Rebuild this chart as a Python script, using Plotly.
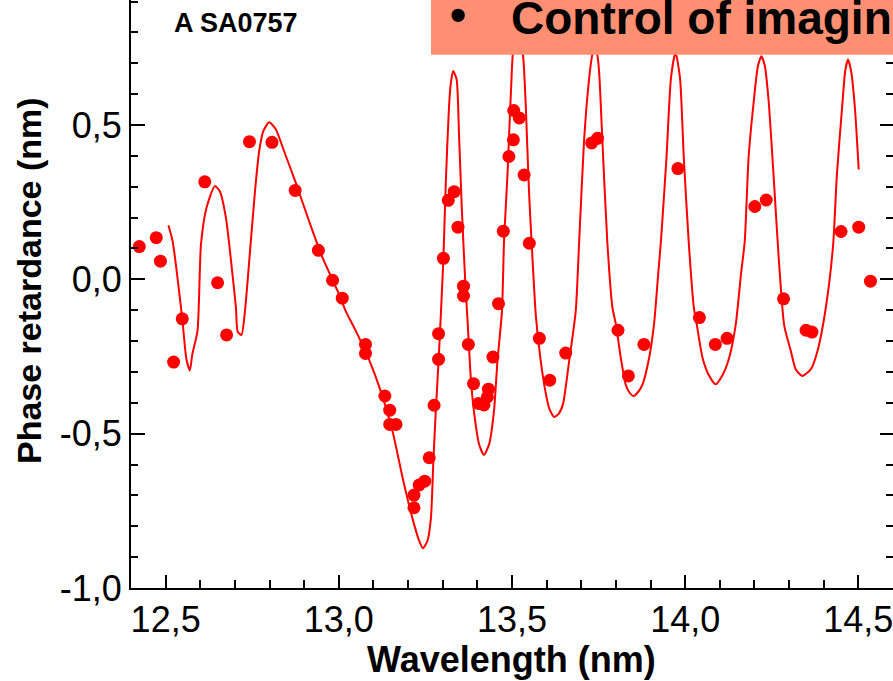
import plotly.graph_objects as go

# ---- measured data points (wavelength nm, phase retardance nm)
meas_x = [12.424, 12.473, 12.485, 12.523, 12.548, 12.613, 12.650, 12.676, 12.742, 12.807,
          12.874, 12.941, 12.982, 13.010, 13.077, 13.077, 13.133, 13.147, 13.147, 13.165,
          13.217, 13.217, 13.232, 13.248, 13.261, 13.275, 13.288, 13.288, 13.302, 13.316,
          13.333, 13.344, 13.360, 13.360, 13.374, 13.389, 13.403, 13.419, 13.429, 13.432,
          13.445, 13.461, 13.475, 13.491, 13.504, 13.505, 13.521, 13.535, 13.550, 13.579,
          13.609, 13.655, 13.730, 13.747, 13.806, 13.836, 13.881, 13.979, 14.041, 14.087,
          14.121, 14.201, 14.234, 14.284, 14.349, 14.366, 14.450, 14.501, 14.535]
meas_y = [0.106, 0.135, 0.059, -0.268, -0.128, 0.316, -0.011, -0.180, 0.446, 0.444,
          0.288, 0.094, -0.003, -0.061, -0.211, -0.240, -0.378, -0.424, -0.470, -0.470,
          -0.699, -0.740, -0.666, -0.654, -0.578, -0.408, -0.259, -0.176, 0.068, 0.256,
          0.284, 0.169, -0.022, -0.054, -0.211, -0.338, -0.402, -0.407, -0.381, -0.356,
          -0.252, -0.079, 0.156, 0.398, 0.452, 0.547, 0.523, 0.338, 0.117, -0.191,
          -0.327, -0.239, 0.442, 0.457, -0.165, -0.313, -0.211, 0.359, -0.124, -0.211,
          -0.191, 0.236, 0.257, -0.063, -0.165, -0.171, 0.155, 0.169, -0.006]

# ---- fitted curve
fit_x = [12.508, 12.520, 12.548, 12.560, 12.570, 12.577, 12.592, 12.602, 12.618, 12.642,
         12.656, 12.674, 12.693, 12.703, 12.708, 12.719, 12.729, 12.746, 12.758, 12.770,
         12.782, 12.799, 12.818, 12.842, 12.874, 12.914, 12.953, 13.001, 13.020, 13.049,
         13.087, 13.121, 13.155, 13.184, 13.212, 13.232, 13.243, 13.256, 13.266, 13.273,
         13.280, 13.288, 13.295, 13.302, 13.309, 13.318, 13.323, 13.330, 13.340, 13.347,
         13.355, 13.365, 13.372, 13.381, 13.390, 13.405, 13.419, 13.434, 13.448, 13.458,
         13.471, 13.477, 13.487, 13.497, 13.506, 13.519, 13.532, 13.540, 13.549, 13.559,
         13.569, 13.583, 13.598, 13.608, 13.622, 13.635, 13.647, 13.665, 13.684, 13.694,
         13.708, 13.721, 13.731, 13.739, 13.747, 13.752, 13.761, 13.775, 13.790, 13.800,
         13.814, 13.828, 13.838, 13.851, 13.864, 13.877, 13.896, 13.910, 13.922, 13.930,
         13.946, 13.959, 13.972, 13.985, 13.996, 14.010, 14.025, 14.034, 14.050, 14.068,
         14.088, 14.108, 14.127, 14.146, 14.161, 14.172, 14.183, 14.198, 14.210, 14.220,
         14.230, 14.241, 14.255, 14.270, 14.286, 14.305, 14.319, 14.338, 14.363, 14.382,
         14.406, 14.427, 14.438, 14.453, 14.462, 14.470, 14.479, 14.490, 14.501]
fit_y = [0.175, 0.124, -0.128, -0.259, -0.295, -0.243, -0.167, 0.113, 0.232, 0.302,
         0.286, 0.200, 0.016, -0.092, -0.170, -0.180, -0.103, 0.124, 0.286, 0.415,
         0.480, 0.509, 0.486, 0.415, 0.318, 0.189, 0.070, -0.049, -0.103, -0.167,
         -0.259, -0.362, -0.491, -0.642, -0.772, -0.847, -0.871, -0.847, -0.772, -0.588,
         -0.426, -0.265, -0.103, 0.070, 0.318, 0.556, 0.632, 0.675, 0.648, 0.470,
         0.232, -0.006, -0.140, -0.319, -0.426, -0.534, -0.569, -0.534, -0.426, -0.265,
         -0.103, 0.124, 0.340, 0.610, 0.772, 0.800, 0.723, 0.556, 0.286, 0.070,
         -0.120, -0.265, -0.372, -0.420, -0.446, -0.435, -0.405, -0.265, -0.103, 0.124,
         0.448, 0.632, 0.723, 0.760, 0.723, 0.664, 0.448, 0.124, -0.092, -0.146,
         -0.254, -0.340, -0.365, -0.378, -0.365, -0.340, -0.254, -0.146, 0.016, 0.124,
         0.394, 0.653, 0.735, 0.653, 0.394, 0.124, -0.092, -0.150, -0.254, -0.310,
         -0.340, -0.310, -0.254, -0.146, 0.016, 0.124, 0.394, 0.577, 0.691, 0.723,
         0.691, 0.577, 0.340, 0.070, -0.150, -0.232, -0.291, -0.313, -0.291, -0.232,
         -0.092, 0.110, 0.340, 0.556, 0.675, 0.712, 0.675, 0.556, 0.356]

# ---- ticks
x_tickvals = [12.5, 13.0, 13.5, 14.0, 14.5]
x_ticktext = ["12,5", "13,0", "13,5", "14,0", "14,5"]
y_tickvals = [-1.0, -0.5, 0.0, 0.5]
y_ticktext = ["-1,0", "-0,5", "0,0", "0,5"]

FONT = "Arial, Liberation Sans, sans-serif"
RED = "#FF0000"

fig = go.Figure()
fig.add_trace(go.Scatter(x=fit_x, y=fit_y, mode="lines",
                         line=dict(color=RED, width=2, shape="spline", smoothing=0.6),
                         showlegend=False, hoverinfo="skip"))
fig.add_trace(go.Scatter(x=meas_x, y=meas_y, mode="markers",
                         marker=dict(color=RED, size=13, line=dict(width=0)),
                         showlegend=False))

axis_common = dict(showgrid=False, zeroline=False, showline=True, linecolor="black",
                   linewidth=2, ticks="inside", tickcolor="black", tickwidth=2,
                   automargin=False, ticklabeloverflow="allow",
                   tickfont=dict(family=FONT, size=36, color="black"))

fig.update_layout(
    width=893, height=681,
    margin=dict(l=131, r=0, t=0, b=93),
    paper_bgcolor="white", plot_bgcolor="white",
    xaxis=dict(range=[12.4, 14.6], tickvals=x_tickvals, ticktext=x_ticktext,
               ticklen=13, ticklabelstandoff=-1,
               minor=dict(ticks="inside", ticklen=8, dtick=0.1, tick0=12.4,
                          tickwidth=2, tickcolor="black"),
               **axis_common),
    yaxis=dict(range=[-1.0, 0.905], tickvals=y_tickvals, ticktext=y_ticktext,
               ticklen=14, minor=dict(ticks="inside", ticklen=7, dtick=0.1, tick0=-1.0,
                                      tickwidth=2, tickcolor="black"),
               **axis_common),
    yaxis2=dict(overlaying="y", matches="y", side="right", showline=False,
                automargin=False,
                showgrid=False, zeroline=False, showticklabels=False,
                ticks="inside", ticklen=13, tickwidth=2, tickcolor="black",
                tickvals=y_tickvals,
                minor=dict(ticks="inside", ticklen=7, dtick=0.1, tick0=-1.0,
                           tickwidth=2, tickcolor="black")),
    showlegend=False,
)

# invisible trace to bind yaxis2
fig.add_trace(go.Scatter(x=[12.4], y=[-2], yaxis="y2", mode="markers",
                         marker=dict(opacity=0), showlegend=False, hoverinfo="skip"))

fig.add_shape(type="rect", xref="paper", yref="paper", x0=0.3937, x1=1.05,
              y0=1 - 54.7 / 588, y1=1.05, fillcolor="#FF8F72", line=dict(width=0),
              layer="above")

fig.add_annotation(text="A SA0757", xref="paper", yref="paper", x=0.1378, y=1 - 23 / 588,
                   xanchor="center", yanchor="middle", showarrow=False,
                   font=dict(family=FONT, size=27, color="black", weight="bold"))
fig.add_annotation(text="•", xref="paper", yref="paper", x=(458 - 131) / 762, y=1 - 15 / 588,
                   xanchor="center", yanchor="middle", showarrow=False,
                   font=dict(family=FONT, size=46, color="black", weight="bold"))
fig.add_annotation(text="Control of imaging", xref="paper", yref="paper",
                   x=(509 - 131) / 762, y=1 - 18 / 588,
                   xanchor="left", yanchor="middle", showarrow=False,
                   font=dict(family=FONT, size=46, color="black", weight="bold"))
fig.add_annotation(text="Wavelength (nm)", xref="paper", yref="paper",
                   x=(511.5 - 131) / 762, y=(588 - 659) / 588,
                   xanchor="center", yanchor="middle", showarrow=False,
                   font=dict(family=FONT, size=36, color="black", weight="bold"))
fig.add_annotation(text="Phase retardance (nm)", xref="paper", yref="paper",
                   x=(29 - 131) / 762, y=(588 - 281) / 588, textangle=-90,
                   xanchor="center", yanchor="middle", showarrow=False,
                   font=dict(family=FONT, size=34, color="black", weight="bold"))

fig.write_html("out.html", config={"displayModeBar": False},
               post_script="document.body.style.margin='0px';")
